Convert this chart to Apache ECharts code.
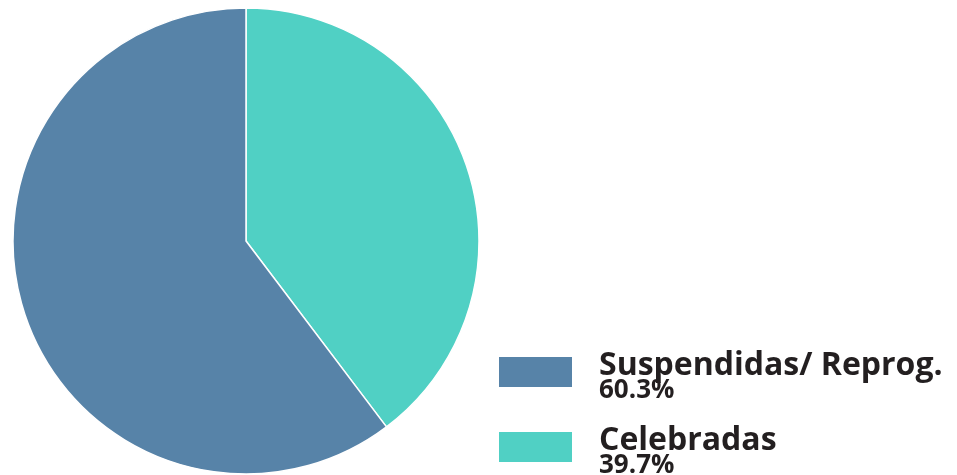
<!DOCTYPE html>
<html>
<head>
<meta charset="utf-8">
<script src="https://cdn.jsdelivr.net/npm/echarts@6/dist/echarts.min.js"></script>
<style>
  html, body { margin: 0; padding: 0; background: #ffffff; }
  #chart { width: 957px; height: 475px; }
</style>
</head>
<body>
<div id="chart"></div>
<script>
// Share of events by status (percent)
const sliceNames = ['Celebradas', 'Suspendidas/ Reprog.'];
const sliceValues = [39.7, 60.3];
const sliceColors = ['#50d0c4', '#5783a8'];
const legendOrder = ['Suspendidas/ Reprog.', 'Celebradas'];

const valueByName = {};
sliceNames.forEach((n, i) => { valueByName[n] = sliceValues[i]; });

const chart = echarts.init(document.getElementById('chart'), null, { renderer: 'canvas' });

// one legend block per entry, stacked under the pie's right side
const legendTops = [350, 425];
const legends = legendOrder.map((name, i) => ({
  orient: 'vertical',
  left: 497,
  top: legendTops[i],
  padding: 0,
  itemWidth: 75,
  itemHeight: 32,
  icon: 'rect',
  data: [name],
  selectedMode: false,
  formatter: n => '{n|' + n + '}\n{p|' + valueByName[n].toFixed(1) + '%}',
  textStyle: {
    padding: [14, 0, 0, 21],
    rich: {
      n: { fontFamily: '"Open Sans", sans-serif', fontSize: 32, fontWeight: 'bold', color: '#231f20', lineHeight: 24 },
      p: { fontFamily: '"Open Sans", sans-serif', fontSize: 26, fontWeight: 'bold', color: '#231f20', lineHeight: 26 }
    }
  }
}));

chart.setOption({
  animation: false,
  backgroundColor: '#ffffff',
  textStyle: { fontFamily: '"Open Sans", sans-serif' },
  legend: legends,
  series: [{
    type: 'pie',
    center: [246, 241],
    radius: [0, 233],
    startAngle: 90,
    clockwise: true,
    label: { show: false },
    labelLine: { show: false },
    emphasis: { disabled: true },
    itemStyle: { borderColor: '#ffffff', borderWidth: 1.5 },
    data: sliceNames.map((n, i) => ({
      name: n,
      value: sliceValues[i],
      itemStyle: { color: sliceColors[i] }
    }))
  }]
});
</script>
</body>
</html>
